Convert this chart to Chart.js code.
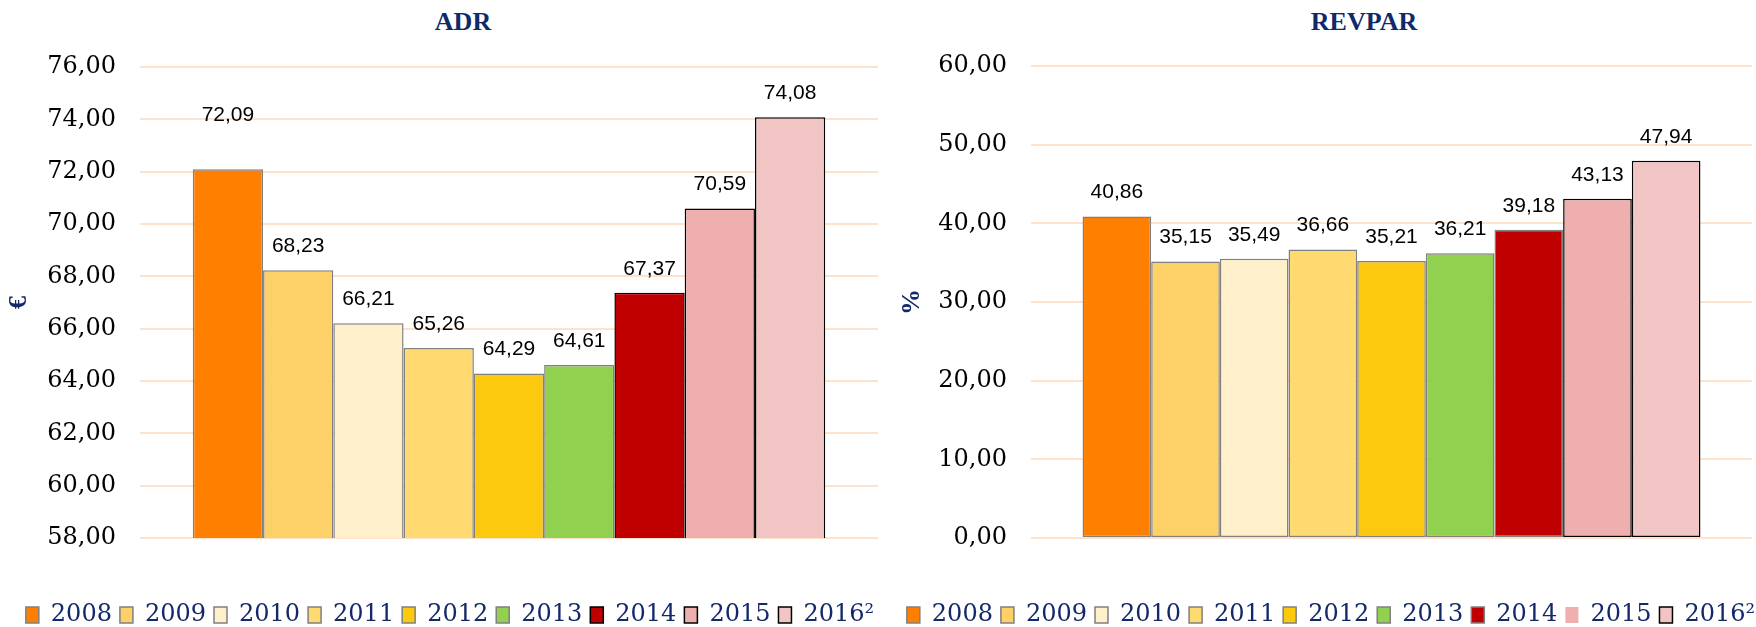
<!DOCTYPE html>
<html>
<head>
<meta charset="utf-8">
<script src="https://cdn.jsdelivr.net/npm/chart.js@4.4.1/dist/chart.umd.min.js"></script>
<style>
  html, body { margin: 0; padding: 0; background: #fff; }
  body { width: 1756px; height: 627px; position: relative; overflow: hidden; }
  .panel { position: absolute; top: 0; width: 878px; height: 637px; }
  .title {
    position: absolute; top: 7px; line-height: 30px;
    font: bold 26px "Liberation Serif", "Times New Roman", serif;
    color: #0f2a6b; transform: translateX(-50%); white-space: nowrap;
  }
</style>
</head>
<body>
<div class="title" style="left:463px">ADR</div>
<div class="title" style="left:1364px">REVPAR</div>
<div class="panel" style="left:0"><canvas id="adrChart" width="878" height="637"></canvas></div>
<div class="panel" style="left:878px"><canvas id="revparChart" width="878" height="637"></canvas></div>
<script>
// données
const years = ['2008', '2009', '2010', '2011', '2012', '2013', '2014', '2015', '2016²'];
const adrValues = [72.09, 68.23, 66.21, 65.26, 64.29, 64.61, 67.37, 70.59, 74.08];
const revparValues = [40.86, 35.15, 35.49, 36.66, 35.21, 36.21, 39.18, 43.13, 47.94];
const adrTicks = [58, 60, 62, 64, 66, 68, 70, 72, 74, 76];
const revparTicks = [0, 10, 20, 30, 40, 50, 60];

// styles
const barColors = ['#FF8000', '#FED068', '#FFEFCB', '#FEDA70', '#FDC90F', '#92D050', '#C00000', '#EFAFAF', '#F2C5C5'];
const GRAY = '#808080';
const BLACK = '#000000';
const NAVY = '#14296b';
const adrStrokes = [GRAY, GRAY, GRAY, GRAY, GRAY, GRAY, BLACK, BLACK, BLACK];
const revparStrokes = [GRAY, GRAY, GRAY, GRAY, GRAY, GRAY, GRAY, BLACK, BLACK];

const fmt = v => Number(v).toFixed(2).replace('.', ',');

// etiquettes de valeur au-dessus des barres
const valueLabels = {
    id: 'valueLabels',
    afterDatasetsDraw(chart, args, opts) {
        const ctx = chart.ctx;
        ctx.save();
        ctx.font = '21px "Liberation Sans", Arial, sans-serif';
        ctx.fillStyle = '#000';
        ctx.textAlign = 'center';
        ctx.textBaseline = 'middle';
        chart.data.datasets.forEach((ds, i) => {
            const meta = chart.getDatasetMeta(i);
            meta.data.forEach((bar, j) => {
                const lift = opts.gap + (ds.labelLift || 0);
                ctx.fillText(fmt(ds.data[j]), bar.x, bar.y - lift);
            });
        });
        ctx.restore();
    }
};

// décalage horizontal de la légende
const legendShift = {
    id: 'legendShift',
    afterLayout(chart, args, opts) {
        const lg = chart.legend;
        if (!lg || !opts.dx) return;
        lg.left += opts.dx;
        lg.right += opts.dx;
    }
};

function buildDatasets(values, strokes) {
    return years.map((y, i) => ({
        label: y,
        data: [values[i]],
        backgroundColor: barColors[i],
        borderColor: strokes[i],
        borderWidth: 1.5,
        borderSkipped: false
    }));
}

function makeChart(canvasId, values, strokes, ticks, unit, opts) {
    const datasets = buildDatasets(values, strokes);
    if (opts.tweak) opts.tweak(datasets);
    const step = ticks[1] - ticks[0];
    return new Chart(document.getElementById(canvasId), {
        type: 'bar',
        data: { labels: [''], datasets },
        plugins: [valueLabels, legendShift],
        options: {
            responsive: false,
            animation: false,
            categoryPercentage: 0.857,
            barPercentage: 1,
            layout: { padding: { top: opts.top, right: opts.right, bottom: 0, left: 0 } },
            plugins: {
                title: { display: false },
                tooltip: { enabled: false },
                valueLabels: { gap: 24 },
                legendShift: { dx: opts.legendDx },
                legend: {
                    position: 'bottom',
                    labels: {
                        color: NAVY,
                        font: { family: '"DejaVu Serif", serif', size: 24 },
                        boxWidth: 13,
                        boxHeight: 16,
                        padding: 8,
                        generateLabels(chart) {
                            const items = Chart.defaults.plugins.legend.labels.generateLabels(chart);
                            items.forEach(it => {
                                const ds = chart.data.datasets[it.datasetIndex];
                                if (ds.legendNoStroke) it.lineWidth = 0;
                            });
                            return items;
                        }
                    }
                }
            },
            scales: {
                x: {
                    display: true,
                    grid: { display: false },
                    border: { display: false },
                    ticks: { display: false },
                    afterFit: s => { s.height = opts.xHeight; }
                },
                y: {
                    min: ticks[0],
                    max: ticks[ticks.length - 1],
                    ticks: {
                        stepSize: step,
                        padding: 24,
                        color: '#000',
                        font: { family: '"DejaVu Serif", serif', size: 24 },
                        callback: v => fmt(v)
                    },
                    grid: { color: '#FDE3CB', lineWidth: 2, drawTicks: false },
                    border: { display: false },
                    title: {
                        display: true,
                        text: unit,
                        color: NAVY,
                        font: { family: '"Liberation Serif", serif', size: 26, weight: 'bold' },
                        padding: { top: opts.titlePad, bottom: 0 }
                    },
                    afterFit: s => { s.width = opts.yWidth; }
                }
            }
        }
    });
}

makeChart('adrChart', adrValues, adrStrokes, adrTicks, '€', {
    top: 67, right: 0, yWidth: 140, xHeight: 57, titlePad: 4, legendDx: 11,
    tweak: ds => { ds[0].labelLift = 30; }
});

makeChart('revparChart', revparValues, revparStrokes, revparTicks, '%', {
    top: 66, right: 4, yWidth: 153, xHeight: 57, titlePad: 19, legendDx: 16,
    tweak: ds => { ds[7].legendNoStroke = true; }
});
</script>
</body>
</html>
